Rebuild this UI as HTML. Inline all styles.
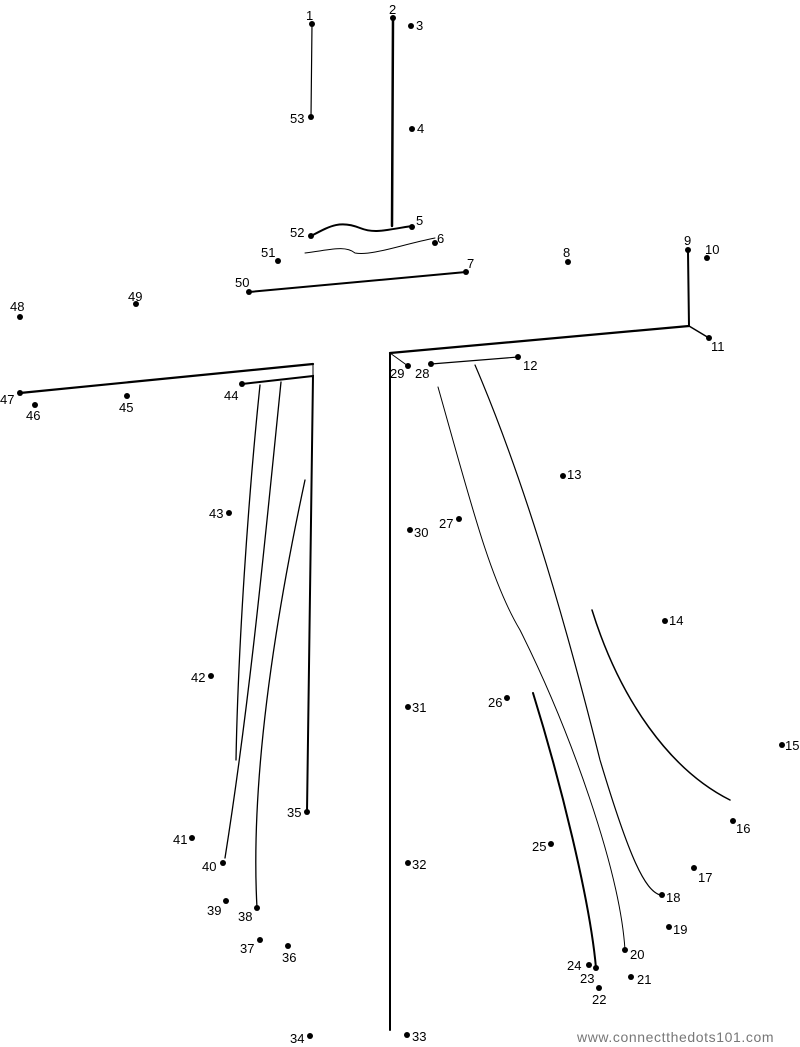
<!DOCTYPE html>
<html><head><meta charset="utf-8"><style>
html,body{margin:0;padding:0;background:#fff;}
svg{display:block;}
text{font-family:"Liberation Sans",sans-serif;font-size:13px;fill:#000;}
</style></head><body>
<svg width="800" height="1047" viewBox="0 0 800 1047" xmlns="http://www.w3.org/2000/svg">
<g fill="none" stroke="#000" stroke-linecap="round">
<line x1="312" y1="24" x2="311" y2="117" stroke-width="1.2"/>
<line x1="393" y1="18" x2="392" y2="226" stroke-width="2.5"/>
<path d="M311 236 C330 226,340 220,360 228 C375 234,385 230,412 226" stroke-width="2"/>
<path d="M305 253 C330 250,345 245,355 253 C372 256,400 245,435 238" stroke-width="1"/>
<line x1="249" y1="292" x2="466" y2="272" stroke-width="2"/>
<line x1="688" y1="252" x2="689" y2="326" stroke-width="2"/>
<line x1="709" y1="338" x2="689" y2="326" stroke-width="1.5"/>
<line x1="689" y1="326" x2="390" y2="353" stroke-width="2.2"/>
<line x1="390" y1="353" x2="408" y2="366" stroke-width="1"/>
<line x1="390" y1="353" x2="390" y2="1030" stroke-width="2"/>
<line x1="431" y1="364" x2="518" y2="357" stroke-width="1.2"/>
<path d="M438 387 C470 500,490 580,520 630 C570 730,620 870,625 950" stroke-width="1"/>
<path d="M475 365 C520 470,560 600,600 760 C630 860,645 890,660 895" stroke-width="1.2"/>
<path d="M592 610 C620 700,670 770,730 800" stroke-width="1.5"/>
<path d="M533 693 C560 780,590 900,596 968" stroke-width="2"/>
<line x1="20" y1="393" x2="313" y2="364" stroke-width="2.2"/>
<line x1="313" y1="364" x2="313" y2="376" stroke-width="1"/>
<path d="M242 384 L313 376 L307 812" stroke-width="2"/>
<path d="M260 385 C248 500,238 650,236 760" stroke-width="1.3"/>
<path d="M281 382 C265 540,250 700,225 858" stroke-width="1.3"/>
<path d="M305 480 C275 620,250 780,257 908" stroke-width="1.3"/>
</g>
<g fill="#000">
<circle cx="312" cy="24" r="3"/><circle cx="393" cy="18" r="3"/><circle cx="411" cy="26" r="3"/><circle cx="412" cy="129" r="3"/>
<circle cx="412" cy="227" r="3"/><circle cx="435" cy="243" r="3"/><circle cx="466" cy="272" r="3"/><circle cx="568" cy="262" r="3"/>
<circle cx="688" cy="250" r="3"/><circle cx="707" cy="258" r="3"/><circle cx="709" cy="338" r="3"/><circle cx="518" cy="357" r="3"/>
<circle cx="563" cy="476" r="3"/><circle cx="665" cy="621" r="3"/><circle cx="782" cy="745" r="3"/><circle cx="733" cy="821" r="3"/>
<circle cx="694" cy="868" r="3"/><circle cx="662" cy="895" r="3"/><circle cx="669" cy="927" r="3"/><circle cx="625" cy="950" r="3"/>
<circle cx="631" cy="977" r="3"/><circle cx="599" cy="988" r="3"/><circle cx="596" cy="968" r="3"/><circle cx="589" cy="965" r="3"/>
<circle cx="551" cy="844" r="3"/><circle cx="507" cy="698" r="3"/><circle cx="459" cy="519" r="3"/><circle cx="431" cy="364" r="3"/>
<circle cx="408" cy="366" r="3"/><circle cx="410" cy="530" r="3"/><circle cx="408" cy="707" r="3"/><circle cx="408" cy="863" r="3"/>
<circle cx="407" cy="1035" r="3"/><circle cx="310" cy="1036" r="3"/><circle cx="307" cy="812" r="3"/><circle cx="288" cy="946" r="3"/>
<circle cx="260" cy="940" r="3"/><circle cx="257" cy="908" r="3"/><circle cx="226" cy="901" r="3"/><circle cx="223" cy="863" r="3"/>
<circle cx="192" cy="838" r="3"/><circle cx="211" cy="676" r="3"/><circle cx="229" cy="513" r="3"/><circle cx="242" cy="384" r="3"/>
<circle cx="127" cy="396" r="3"/><circle cx="35" cy="405" r="3"/><circle cx="20" cy="393" r="3"/><circle cx="20" cy="317" r="3"/>
<circle cx="136" cy="304" r="3"/><circle cx="249" cy="292" r="3"/><circle cx="278" cy="261" r="3"/><circle cx="311" cy="236" r="3"/>
<circle cx="311" cy="117" r="3"/>
</g>
<g>
<text x="306" y="20">1</text><text x="389" y="14">2</text><text x="416" y="30">3</text><text x="417" y="133">4</text>
<text x="416" y="225">5</text><text x="437" y="243">6</text><text x="467" y="268">7</text><text x="563" y="257">8</text>
<text x="684" y="245">9</text><text x="705" y="254">10</text><text x="711" y="351">11</text><text x="523" y="370">12</text>
<text x="567" y="479">13</text><text x="669" y="625">14</text><text x="785" y="750">15</text><text x="736" y="833">16</text>
<text x="698" y="882">17</text><text x="666" y="902">18</text><text x="673" y="934">19</text><text x="630" y="959">20</text>
<text x="637" y="984">21</text><text x="592" y="1004">22</text><text x="580" y="983">23</text><text x="567" y="970">24</text>
<text x="532" y="851">25</text><text x="488" y="707">26</text><text x="439" y="528">27</text><text x="415" y="378">28</text>
<text x="390" y="378">29</text><text x="414" y="537">30</text><text x="412" y="712">31</text><text x="412" y="869">32</text>
<text x="412" y="1041">33</text><text x="290" y="1043">34</text><text x="287" y="817">35</text><text x="282" y="962">36</text>
<text x="240" y="953">37</text><text x="238" y="921">38</text><text x="207" y="915">39</text><text x="202" y="871">40</text>
<text x="173" y="844">41</text><text x="191" y="682">42</text><text x="209" y="518">43</text><text x="224" y="400">44</text>
<text x="119" y="412">45</text><text x="26" y="420">46</text><text x="0" y="404">47</text><text x="10" y="311">48</text>
<text x="128" y="301">49</text><text x="235" y="287">50</text><text x="261" y="257">51</text><text x="290" y="237">52</text>
<text x="290" y="123">53</text>
<text x="577" y="1042" style="font-size:14px;fill:#777;letter-spacing:0.6px">www.connectthedots101.com</text>
</g>
</svg>
</body></html>
